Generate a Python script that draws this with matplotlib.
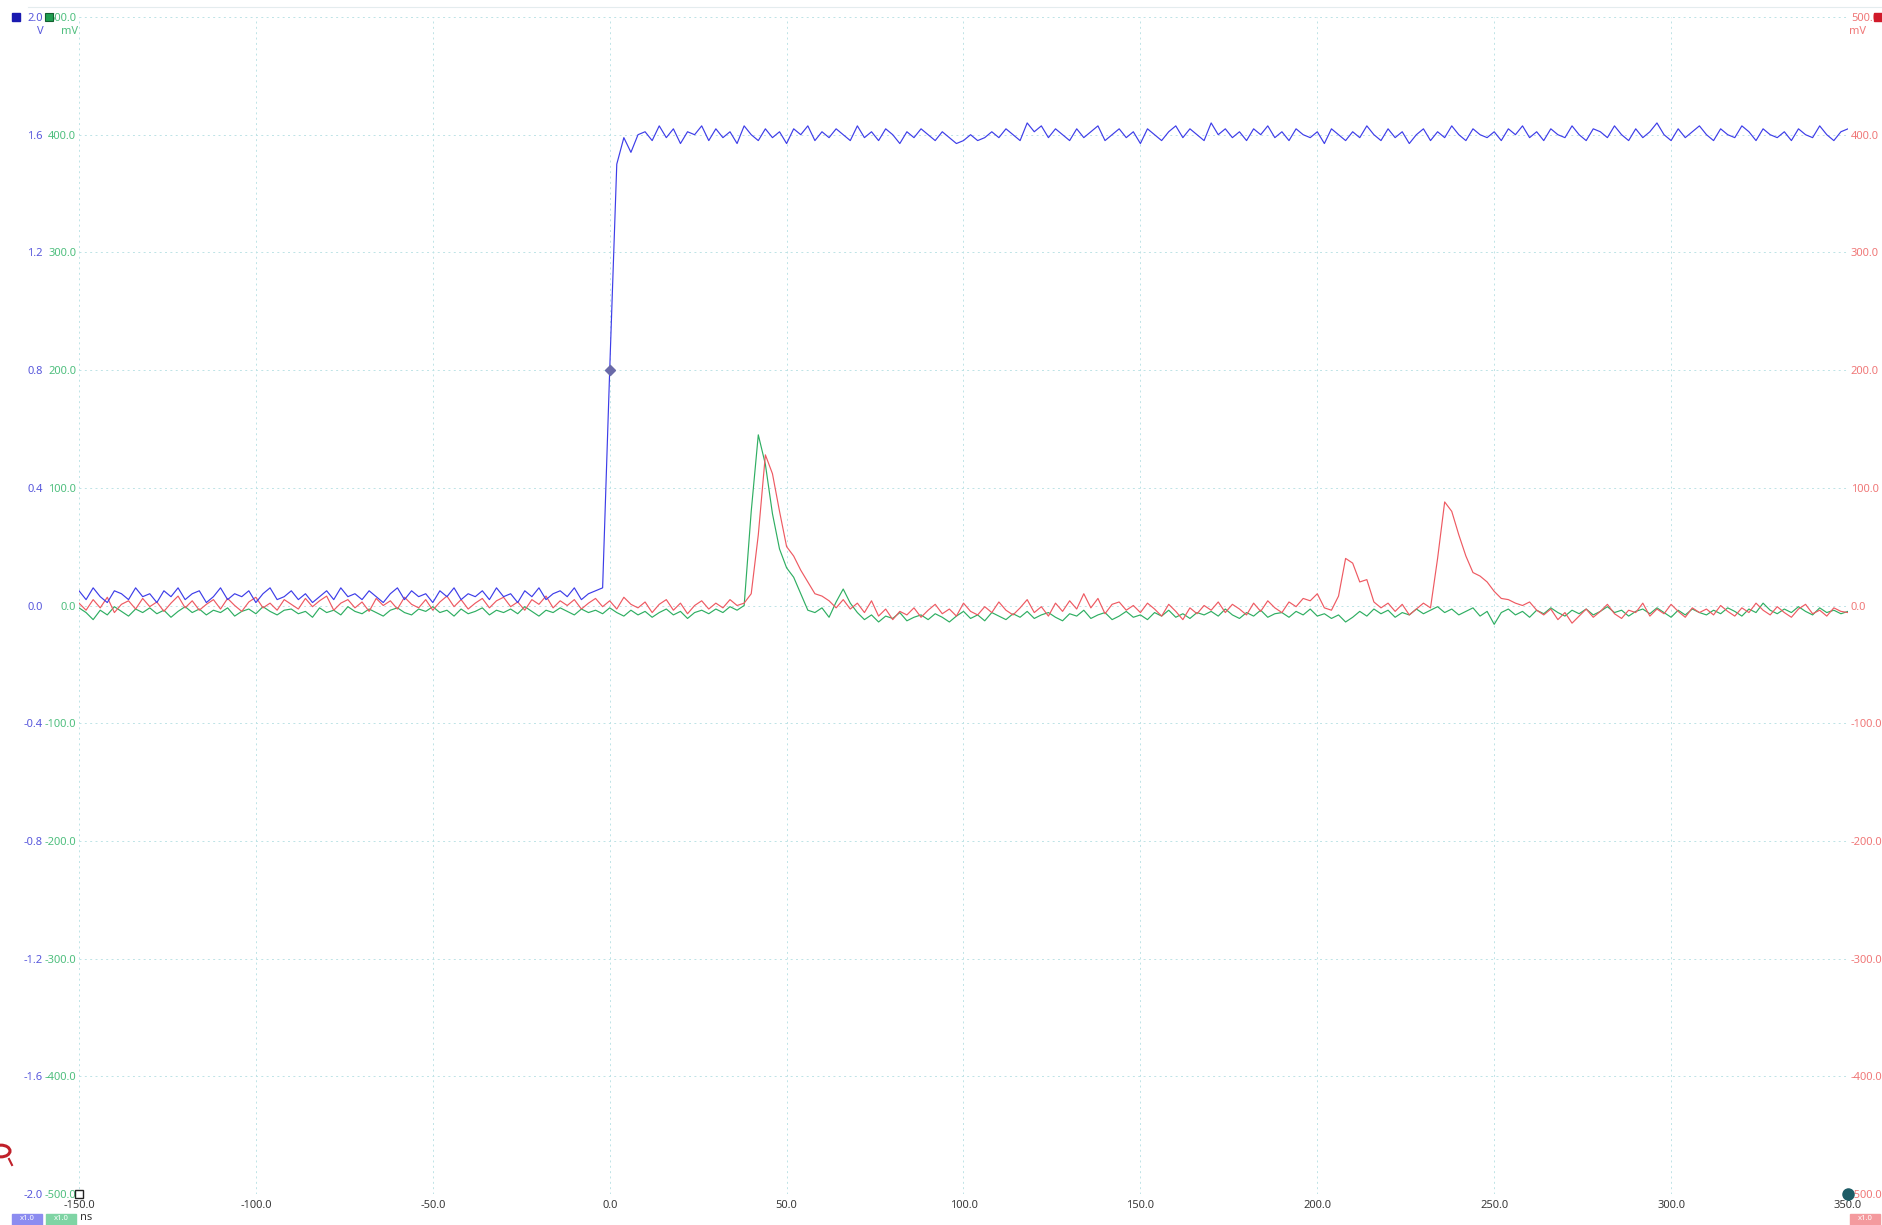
#!/usr/bin/env python3

import numpy as np
from matplotlib import pyplot as plt
from matplotlib.patches import Rectangle, Circle
from matplotlib.lines import Line2D

W, H = 1883, 1225

# time base of the capture (ns), one sample every 2 ns
time_ns = np.arange(-150, 351, 2)

# channel A (V): flat, edge near 0 ns, then ~1.6 V
blue_pre = [
  0.05, 0.02, 0.06, 0.03, 0.01, 0.05, 0.04, 0.02, 0.06, 0.03,
  0.04, 0.01, 0.05, 0.03, 0.06, 0.02, 0.04, 0.05, 0.01, 0.03,
  0.06, 0.02, 0.04, 0.03, 0.05, 0.01, 0.04, 0.06, 0.02, 0.03,
  0.05, 0.02, 0.04, 0.01, 0.03, 0.05, 0.02, 0.06, 0.03, 0.04,
  0.02, 0.05, 0.03, 0.01, 0.04, 0.06, 0.02, 0.05, 0.03, 0.04,
  0.01, 0.05, 0.03, 0.06, 0.02, 0.04, 0.03, 0.05, 0.02, 0.06,
  0.03, 0.04, 0.01, 0.05, 0.03, 0.06, 0.02, 0.04, 0.05, 0.03,
  0.06, 0.02, 0.04, 0.05]
blue_edge = [0.06, 0.80, 1.50, 1.59, 1.54, 1.60]
blue_post = [
  1.61, 1.58, 1.63, 1.59, 1.62, 1.57, 1.61, 1.60, 1.63, 1.58,
  1.62, 1.59, 1.61, 1.57, 1.63, 1.60, 1.58, 1.62, 1.59, 1.61,
  1.57, 1.62, 1.60, 1.63, 1.58, 1.61, 1.59, 1.62, 1.60, 1.58,
  1.63, 1.59, 1.61, 1.58, 1.62, 1.60, 1.57, 1.61, 1.59, 1.62,
  1.60, 1.58, 1.61, 1.59, 1.57, 1.58, 1.60, 1.58, 1.59, 1.61,
  1.59, 1.62, 1.60, 1.58, 1.64, 1.61, 1.63, 1.59, 1.62, 1.60,
  1.58, 1.62, 1.59, 1.61, 1.63, 1.58, 1.60, 1.62, 1.59, 1.61,
  1.57, 1.62, 1.60, 1.58, 1.61, 1.63, 1.59, 1.62, 1.60, 1.58,
  1.64, 1.60, 1.62, 1.59, 1.61, 1.58, 1.62, 1.60, 1.63, 1.59,
  1.61, 1.58, 1.62, 1.60, 1.59, 1.61, 1.57, 1.62, 1.60, 1.58,
  1.61, 1.59, 1.63, 1.60, 1.58, 1.62, 1.59, 1.61, 1.57, 1.60,
  1.62, 1.58, 1.61, 1.59, 1.63, 1.60, 1.58, 1.62, 1.60, 1.59,
  1.61, 1.58, 1.62, 1.60, 1.63, 1.59, 1.61, 1.58, 1.62, 1.60,
  1.59, 1.63, 1.60, 1.58, 1.62, 1.61, 1.59, 1.63, 1.60, 1.58,
  1.62, 1.59, 1.61, 1.64, 1.60, 1.58, 1.62, 1.59, 1.61, 1.63,
  1.60, 1.58, 1.62, 1.60, 1.59, 1.63, 1.61, 1.58, 1.62, 1.60,
  1.59, 1.61, 1.58, 1.62, 1.60, 1.59, 1.63, 1.60, 1.58, 1.61,
  1.62]
channel_a_v = np.array(blue_pre + blue_edge + blue_post)

# channel B (mV)
channel_b_mv = np.array([
  -2, -6, -12, -4, -8, -1, -5, -9, -3, -6,
  -2, -7, -4, -10, -5, -1, -6, -3, -8, -4,
  -6, -2, -9, -5, -3, -7, -1, -5, -8, -4,
  -3, -7, -5, -10, -2, -6, -4, -8, -1, -5,
  -7, -3, -6, -9, -4, -2, -6, -8, -3, -5,
  -1, -6, -4, -9, -3, -7, -5, -2, -8, -4,
  -6, -3, -7, -1, -5, -9, -4, -6, -2, -5,
  -8, -3, -6, -4, -7, -2, -6, -9, -4, -8,
  -5, -10, -6, -3, -8, -5, -11, -6, -4, -7,
  -3, -6, -1, -4, 0, 80, 145, 120, 78, 48,
  32, 24, 10, -4, -6, -2, -10, 3, 14, 2,
  -6, -12, -8, -14, -9, -11, -6, -13, -10, -8,
  -12, -7, -10, -14, -9, -5, -11, -8, -13, -6,
  -9, -12, -7, -10, -5, -11, -8, -6, -10, -13,
  -7, -9, -4, -11, -8, -6, -12, -9, -5, -10,
  -8, -12, -6, -9, -4, -10, -7, -11, -6, -8,
  -5, -9, -3, -8, -11, -6, -9, -4, -10, -7,
  -6, -10, -5, -8, -3, -9, -7, -11, -8, -14,
  -10, -5, -9, -3, -7, -4, -10, -6, -8, -3,
  -7, -4, -1, -6, -3, -8, -5, -2, -9, -5,
  -16, -6, -3, -8, -5, -10, -4, -7, -2, -6,
  -9, -4, -7, -3, -8, -5, -1, -6, -4, -9,
  -5, -3, -7, -2, -6, -10, -4, -8, -3, -6,
  -8, -4, -7, -2, -5, -9, -3, -6, 2, -4,
  -7, -3, -6, -1, -5, -8, -2, -6, -4, -7,
  -5])

# channel C (mV)
channel_c_mv = np.array([
  2, -4, 5, -2, 7, -6, 1, 4, -3, 6,
  -1, 3, -5, 2, 8, -2, 4, -4, 1, 5,
  -3, 6, 0, -5, 3, 7, -2, 2, -4, 5,
  1, -3, 6, -1, 4, 8, -4, 2, 5, -2,
  3, -5, 6, 0, 4, -3, 7, 1, -2, 5,
  -4, 3, 8, -1, 5, -3, 2, 6, -2, 4,
  7, -1, 3, -4, 5, 1, 8, -2, 4, 0,
  5, -3, 2, 6, -1, 4, -3, 7, 1, -2,
  3, -6, 1, 5, -4, 2, -7, 0, 4, -3,
  2, -2, 5, 0, 2, 10, 60, 128, 112, 80,
  50, 42, 30, 20, 10, 8, 4, -2, 5, -3,
  2, -6, 4, -9, -3, -12, -5, -8, -2, -10,
  -4, 1, -7, -3, -9, 2, -5, -8, -1, -6,
  3, -4, -8, -2, 5, -6, -1, -9, 2, -5,
  4, -3, 10, -2, 6, -7, 1, 3, -4, 0,
  -6, 2, -3, -9, 1, -5, -12, -2, -7, 0,
  -4, 3, -6, 1, -3, -8, 2, -5, 4, -2,
  -6, 3, -1, 6, 4, 10, -2, -4, 8, 40,
  36, 20, 22, 3, -2, 2, -5, 1, -8, -3,
  2, -2, 40, 88, 80, 60, 42, 28, 25, 20,
  12, 6, 5, 2, 0, 3, -4, -8, -3, -12,
  -6, -15, -9, -3, -10, -5, 1, -7, -11, -4,
  -6, 2, -9, -3, -7, 1, -5, -10, -2, -6,
  -3, -8, 0, -5, -9, -2, -6, 2, -4, -8,
  -1, -6, -10, -3, 1, -7, -4, -9, -2, -5,
  -6])

x_ticks = np.linspace(-150, 350, 11)
v_ticks = np.linspace(-2.0, 2.0, 11)
mv_ticks = np.linspace(-500, 500, 11)

BLUE = '#3d3de8'
BLUE_TXT = '#5858dc'
GREEN = '#2fae62'
GREEN_TXT = '#4fbf7e'
RED = '#ee5a62'
RED_TXT = '#f07878'
GRID = '#bde3e6'

def fmt(v):
  s = f'{v:.1f}'
  return '0.0' if s == '-0.0' else s

def main():
  plt.rcParams['font.family'] = ['Noto Sans', 'DejaVu Sans']
  fig = plt.figure(figsize=(W / 100, H / 100), dpi=100)
  fig.patch.set_facecolor('white')

  left, right, top, bottom = 79 / W, 1848 / W, 17 / H, 1194 / H
  ax = fig.add_axes([left, 1 - bottom, right - left, bottom - top])
  ax_r = ax.twinx()
  ax_v = ax.twinx()

  for a in (ax, ax_r, ax_v):
    for sp in a.spines.values():
      sp.set_visible(False)
    a.set_xlim(-150, 350)

  # grid + channel B on base axis
  ax.set_ylim(-500, 500)
  ax.set_xticks(x_ticks)
  ax.set_xticklabels([fmt(v) for v in x_ticks], color='#3a3a3a', fontsize=8)
  ax.set_yticks(mv_ticks)
  ax.set_yticklabels([fmt(v) for v in mv_ticks], color=GREEN_TXT, fontsize=8)
  ax.tick_params(axis='both', length=0)
  ax.tick_params(axis='y', pad=2)
  ax.tick_params(axis='x', pad=4)
  ax.grid(True, color=GRID, linestyle=(0, (2, 3.5)), linewidth=0.7)
  ax.plot(time_ns, channel_b_mv, color=GREEN, linewidth=0.85)

  # channel C, right scale
  ax_r.set_ylim(-500, 500)
  ax_r.set_yticks(mv_ticks)
  ax_r.set_yticklabels([fmt(v) for v in mv_ticks], color=RED_TXT, fontsize=8)
  ax_r.tick_params(axis='y', length=0, pad=2)
  ax_r.plot(time_ns, channel_c_mv, color=RED, linewidth=0.85)

  # channel A, volts on the far left
  ax_v.set_ylim(-2.0, 2.0)
  ax_v.yaxis.tick_left()
  ax_v.set_yticks(v_ticks)
  ax_v.set_yticklabels([fmt(v) for v in v_ticks], color=BLUE_TXT, fontsize=8)
  ax_v.tick_params(axis='y', length=0, pad=26)
  ax_v.plot(time_ns, channel_a_v, color=BLUE, linewidth=0.85)
  trig = np.where(time_ns == 0)[0][0]
  ax_v.plot(time_ns[trig], channel_a_v[trig], marker='D', markersize=5,
            color='#6a6aa8', zorder=5)

  # corner markers
  ax_v.plot([0], [0], marker='s', markersize=6, markerfacecolor='white',
            markeredgecolor='#222222', markeredgewidth=1, transform=ax_v.transAxes,
            clip_on=False, zorder=6)
  ax_v.plot([1], [0], marker='o', markersize=8, color='#1d5c66',
            transform=ax_v.transAxes, clip_on=False, zorder=6)

  # header: channel badges and units
  def px(x, y):
    return x / W, 1 - y / H
  fig.add_artist(Rectangle(px(12, 21), 8 / W, 8 / H, transform=fig.transFigure,
                           color='#1a1ab0'))
  fig.add_artist(Rectangle(px(45, 21), 8 / W, 8 / H, transform=fig.transFigure,
                           facecolor='#1f9e50', edgecolor='#145f30', linewidth=0.8))
  fig.add_artist(Rectangle(px(1874, 21), 8 / W, 8 / H, transform=fig.transFigure,
                           color='#d01a2a'))
  fig.text(*px(40, 31), 'V', color=BLUE_TXT, fontsize=8, ha='center', va='center')
  fig.text(*px(69, 31), 'mV', color=GREEN_TXT, fontsize=8, ha='center', va='center')
  fig.text(*px(1858, 31), 'mV', color=RED_TXT, fontsize=8, ha='center', va='center')
  fig.add_artist(Line2D([28 / W, 1], [1 - 7 / H] * 2, transform=fig.transFigure,
                        color='#e4ecee', linewidth=0.8))

  # footer: scale badges
  for x0, c in ((12, '#8c8cf0'), (46, '#7fd4a4'), (1850, '#f49a9e')):
    fig.add_artist(Rectangle(px(x0, 1225), 30 / W, 11 / H, transform=fig.transFigure,
                             color=c))
    fig.text(*px(x0 + 15, 1219), 'x1.0', color='white', fontsize=5.5,
             ha='center', va='center')
  fig.text(*px(80, 1218), 'ns', color='#333333', fontsize=8, ha='left', va='center')

  # partial red ring at the left edge
  fig.add_artist(Circle(px(1, 1151), 9 / W, transform=fig.transFigure,
                        fill=False, edgecolor='#c0202a', linewidth=2.2))
  fig.add_artist(Line2D([9 / W, 12 / W], [1 - 1159 / H, 1 - 1165 / H],
                        transform=fig.transFigure, color='#c0202a', linewidth=1.5))

  fig.savefig('out.png', dpi=100)
  plt.close()


if __name__ == "__main__":
  main()
